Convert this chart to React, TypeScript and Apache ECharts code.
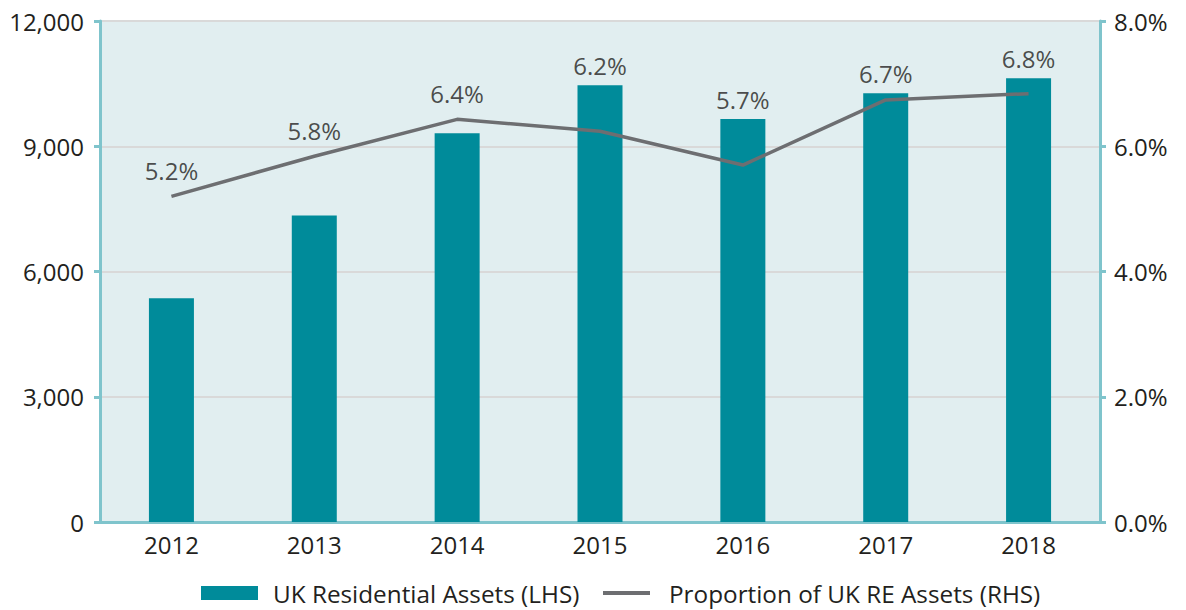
import React, { useEffect, useRef } from "react";
import * as echarts from "echarts";

const categories = ["2012", "2013", "2014", "2015", "2016", "2017", "2018"];
const residentialAssets = [5360, 7340, 9310, 10460, 9650, 10270, 10630];
const reProportion = [5.2, 5.84, 6.43, 6.24, 5.7, 6.74, 6.84];
const proportionLabels = ["5.2%", "5.8%", "6.4%", "6.2%", "5.7%", "6.7%", "6.8%"];
const leftTicks = { min: 0, max: 12000, interval: 3000 };
const rightTicks = { min: 0, max: 8, interval: 2 };
const seriesNames = ["UK Residential Assets (LHS)", "Proportion of UK RE Assets (RHS)"];

const FONT = "'Open Sans', 'Noto Sans', sans-serif";
const TEAL = "#008b9a";
const AXIS = "#7fc4cc";
const GREY = "#6d6e71";
const TEXT = "#231f20";
const FS = 24;

export default function App() {
  const ref = useRef<HTMLDivElement>(null);
  useEffect(() => {
    if (!ref.current) return;
    const chart = echarts.init(ref.current, undefined, { renderer: "svg" });
    const ratio = leftTicks.max / rightTicks.max;
    const labelPoints = categories.map((_, i) => {
      const lineInLeft = reProportion[i] * ratio;
      const lineTop = lineInLeft > residentialAssets[i];
      return {
        value: Math.max(lineInLeft, residentialAssets[i]),
        label: { distance: lineTop ? 14 : 8 },
      };
    });
    const legendText = (pad: number) => ({
      fontFamily: FONT,
      fontSize: 24.3,
      color: TEXT,
      padding: [0, 0, 0, pad],
    });
    chart.setOption({
      animation: false,
      textStyle: { fontFamily: FONT },
      grid: {
        left: 100,
        right: 86,
        top: 21,
        bottom: 88,
        show: true,
        backgroundColor: "#e1eef0",
        borderWidth: 0,
      },
      legend: [
        {
          left: 201,
          top: 581,
          padding: 0,
          itemWidth: 57,
          itemHeight: 14,
          textStyle: legendText(10),
          data: [{ name: seriesNames[0], icon: "rect", itemStyle: { color: TEAL } }],
        },
        {
          left: 603,
          top: 581,
          padding: 0,
          itemWidth: 47,
          itemHeight: 4,
          textStyle: legendText(14),
          data: [{ name: seriesNames[1], icon: "rect", itemStyle: { color: GREY } }],
        },
      ],
      xAxis: {
        type: "category",
        data: categories,
        axisLine: { show: true, lineStyle: { color: AXIS, width: 3 } },
        axisTick: { show: false },
        axisLabel: { fontSize: FS, color: TEXT, margin: 10, fontFamily: FONT },
      },
      yAxis: [
        {
          type: "value",
          min: leftTicks.min,
          max: leftTicks.max,
          interval: leftTicks.interval,
          axisLine: { show: true, lineStyle: { color: AXIS, width: 3 } },
          axisTick: { show: true, length: 6, lineStyle: { color: AXIS, width: 3 } },
          axisLabel: {
            fontSize: FS,
            color: TEXT,
            margin: 16,
            fontFamily: FONT,
            formatter: (v: number) => v.toLocaleString("en-US"),
          },
          splitLine: { show: true, lineStyle: { color: "#d9d9d9", width: 2 } },
        },
        {
          type: "value",
          min: rightTicks.min,
          max: rightTicks.max,
          interval: rightTicks.interval,
          position: "right",
          axisLine: { show: true, lineStyle: { color: AXIS, width: 3 } },
          axisTick: { show: true, length: 6, lineStyle: { color: AXIS, width: 3 } },
          axisLabel: {
            fontSize: FS,
            color: TEXT,
            margin: 14,
            fontFamily: FONT,
            formatter: (v: number) => v.toFixed(1) + "%",
          },
          splitLine: { show: false },
        },
      ],
      series: [
        {
          name: seriesNames[0],
          type: "bar",
          yAxisIndex: 0,
          data: residentialAssets,
          barWidth: 45,
          itemStyle: { color: TEAL },
          z: 2,
        },
        {
          name: seriesNames[1],
          type: "line",
          yAxisIndex: 1,
          data: reProportion,
          symbol: "none",
          lineStyle: { color: GREY, width: 3.5 },
          itemStyle: { color: GREY },
          z: 3,
        },
        {
          name: "labels",
          type: "scatter",
          yAxisIndex: 0,
          data: labelPoints,
          symbolSize: 0,
          silent: true,
          label: {
            show: true,
            position: "top",
            fontSize: FS,
            color: TEXT,
            fontFamily: FONT,
            formatter: (p: any) => proportionLabels[p.dataIndex],
          },
          z: 4,
        },
      ],
    });
    return () => chart.dispose();
  }, []);
  return (
    <div
      ref={ref}
      style={{ position: "absolute", left: 0, top: 0, width: 1186, height: 610 }}
    />
  );
}
